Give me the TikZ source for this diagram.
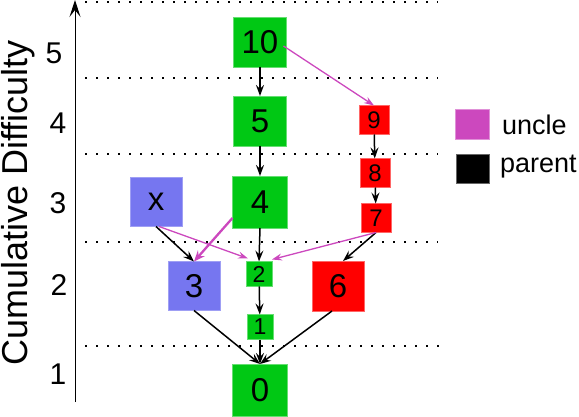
\documentclass[tikz,border=0pt]{standalone}
\usepackage{fontspec}
\setmainfont{Liberation Sans}
\usetikzlibrary{arrows.meta}
\definecolor{ngreen}{RGB}{0,200,20}
\definecolor{nblue}{RGB}{118,118,240}
\definecolor{nred}{RGB}{255,0,0}
\definecolor{nmag}{RGB}{204,72,190}
\tikzset{
  box/.style={inner sep=0pt, outer sep=0pt, anchor=center},
  bigbox/.style={box, minimum width=53pt, minimum height=50pt, font=\fontsize{33}{36}\selectfont},
  smallg/.style={box, fill=ngreen, draw=ngreen!60!white, line width=0.6pt, minimum width=26pt, minimum height=25pt, font=\fontsize{23}{25}\selectfont},
  smallr/.style={box, fill=nred, draw=nred!60!white, line width=0.6pt, minimum width=30pt, minimum height=29pt, font=\fontsize{24}{26}\selectfont},
  gbox/.style={bigbox, fill=ngreen, draw=ngreen!60!white, line width=0.6pt},
  bbox/.style={bigbox, fill=nblue, draw=nblue!70!white, line width=0.6pt},
  rbox/.style={bigbox, fill=nred, draw=nred!60!white, line width=0.6pt},
  par/.style={draw=black, line width=1.5pt, -{Stealth[length=11pt,width=8pt,inset=4pt]}},
  unc/.style={draw=nmag, line width=1.3pt, -{Stealth[length=10pt,width=7pt,inset=3.5pt]}},
  uncthick/.style={draw=nmag, line width=2.3pt, -{Stealth[length=11pt,width=9pt,inset=4pt]}},
  level/.style={line width=1.8pt, dash pattern=on 1.8pt off 9.2pt},
  axlab/.style={font=\fontsize{30}{34}\selectfont, inner sep=0pt},
  leg/.style={font=\fontsize{27}{30}\selectfont, inner sep=0pt, anchor=base west},
}
\begin{document}
\begin{tikzpicture}[x=1pt,y=-1pt]
\useasboundingbox (0,0) rectangle (579,417);
% level lines
\foreach \yy/\xe in {2/438,78/438,154/438,242/438,346/442}
  \draw[level] (85,\yy) -- (\xe,\yy);
% axis
\coordinate (axb) at (75,402);
\coordinate (axt) at (75,0);
\draw[line width=1pt, -{Stealth[length=17pt,width=11pt,inset=7pt]}] (axb) -- (axt);
\node[font=\fontsize{36}{40}\selectfont, rotate=90, inner sep=0pt, anchor=base] (title) at (27.5,203) {Cumulative Difficulty};
\node[axlab] (l5) at (54,53) {5};
\node[axlab] (l4) at (58,123) {4};
\node[axlab] (l3) at (58,203) {3};
\node[axlab] (l2) at (59,285) {2};
\node[axlab] (l1) at (58,374) {1};
% nodes
\node[gbox] (n10) at (260,42) {10};
\node[gbox] (n5) at (260,121) {5};
\node[gbox, minimum width=55pt, minimum height=52pt] (n4) at (260,202) {4};
\node[bbox, minimum width=52pt, minimum height=49pt] (nx) at (156,202) {x};
\node[bbox, minimum width=52pt, minimum height=49pt] (n3) at (194,286) {3};
\node[smallg] (n2) at (259,274) {2};
\node[smallg] (n1) at (260,327) {1};
\node[gbox, minimum width=55pt, minimum height=52pt] (n0) at (260,390) {0};
\node[rbox, minimum width=52pt] (n6) at (338,286) {6};
\node[smallr] (n7) at (376,218) {7};
\node[smallr] (n8) at (375,173) {8};
\node[smallr] (n9) at (374,120) {9};
% parent edges
\draw[par] (n10) -- (n5);
\draw[par] (n5) -- (n4);
\draw[par] (n4.south) -- (n2.north);
\draw[par] (n2) -- (n1);
\draw[par] (n1) -- (n0);
\draw[par] (n3.south) -- (n0.north);
\draw[par] ([xshift=-6pt]n6.south) -- (n0.north);
\draw[par] (nx.south) -- (n3.north);
\draw[par] (n9) -- (n8);
\draw[par] (n8) -- (n7);
\draw[par] (n7.south) -- ([xshift=5pt]n6.north);
% uncle edges
\draw[unc] ([xshift=-3pt,yshift=-4pt]n10.east) -- (n9.north);
\draw[uncthick] ([yshift=-16pt]n4.west) -- (n3.north);
\draw[unc] ([xshift=3pt]nx.south) -- ([xshift=2pt,yshift=3pt]n2.north west);
\draw[unc] (n7.south) -- ([yshift=2pt]n2.north east);
% legend
\node[box, fill=nmag, draw=nmag!60!white, line width=0.6pt, minimum width=34pt, minimum height=30pt] (lu) at (472,124) {};
\node[box, fill=black, draw=black!60!white, line width=0.6pt, minimum width=33pt, minimum height=29pt] (lp) at (473,168.5) {};
\node[leg] (tu) at (502,135) {uncle};
\node[leg] (tp) at (500,173) {parent};
\end{tikzpicture}
\end{document}
